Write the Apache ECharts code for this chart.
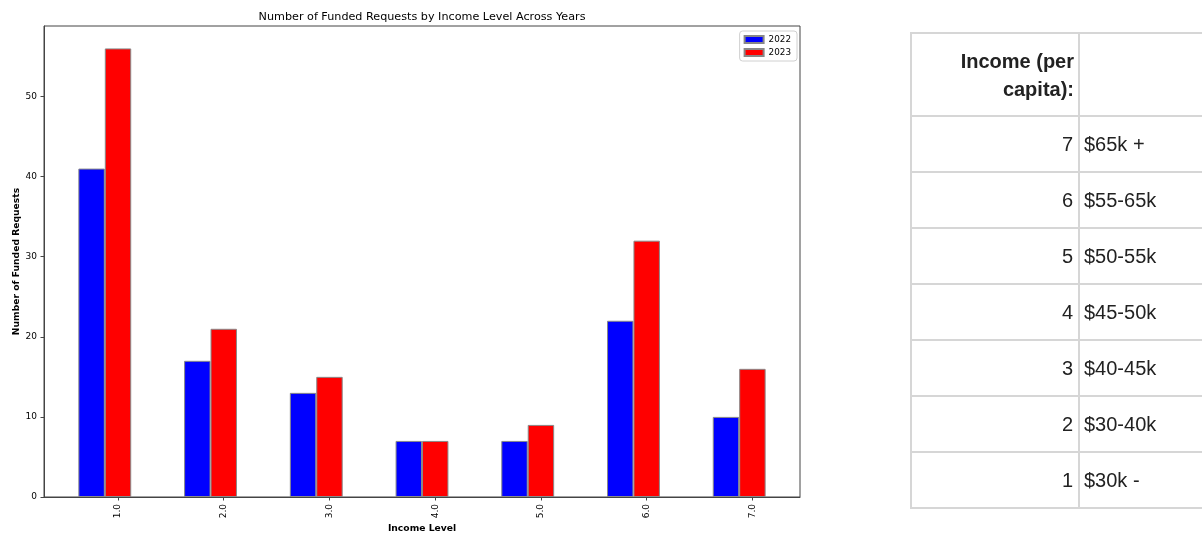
<!DOCTYPE html>
<html>
<head>
<meta charset="utf-8">
<script src="https://cdn.jsdelivr.net/npm/echarts@6/dist/echarts.min.js"></script>
<style>
html,body{margin:0;padding:0;background:#fff;}
#chart{width:1202px;height:534px;}
</style>
</head>
<body>
<div id="chart"></div>
<script>
// ---- data ----
var incomeLevels = [1, 2, 3, 4, 5, 6, 7];
var funded2022 = [41, 17, 13, 7, 7, 22, 10];
var funded2023 = [56, 21, 15, 7, 9, 32, 16];
var yTicks = [0, 10, 20, 30, 40, 50];
var tableCodes = [7, 6, 5, 4, 3, 2, 1];
var tableRanges = ['$65k +', '$55-65k', '$50-55k', '$45-50k', '$40-45k', '$30-40k', '$30k -'];
var tableHeader = 'Income (per\ncapita):';

function pairs(xs, ys) { return xs.map(function (x, i) { return [x, ys[i]]; }); }

// ---- table drawn as graphic ----
var tblLeft = 911, tblMid = 1079, tblRight = 1210, tblTop = 33, headerH = 83, rowH = 56;
var lineStyle = { stroke: '#d6d6d6', lineWidth: 2 };
var graphics = [];
var tblBottom = tblTop + headerH + rowH * tableCodes.length;
[tblLeft, tblMid].forEach(function (x) {
  graphics.push({ type: 'line', shape: { x1: x, y1: tblTop, x2: x, y2: tblBottom }, style: lineStyle, silent: true });
});
var hy = [tblTop];
for (var i = 0; i <= tableCodes.length; i++) hy.push(tblTop + headerH + rowH * i);
hy.forEach(function (y) {
  graphics.push({ type: 'line', shape: { x1: tblLeft - 1, y1: y, x2: tblRight, y2: y }, style: lineStyle, silent: true });
});
graphics.push({
  type: 'text', x: 1074, y: tblTop + headerH / 2 + 2,
  style: { text: tableHeader, font: 'bold 20px "Liberation Sans", Arial, sans-serif', fill: '#222', align: 'right', verticalAlign: 'middle', lineHeight: 28 },
  silent: true
});
tableCodes.forEach(function (c, i) {
  var cy = tblTop + headerH + rowH * i + rowH / 2 + 1;
  graphics.push({ type: 'text', x: 1073, y: cy, style: { text: String(c), font: '20px "Liberation Sans", Arial, sans-serif', fill: '#222', align: 'right', verticalAlign: 'middle' }, silent: true });
  graphics.push({ type: 'text', x: 1084, y: cy, style: { text: tableRanges[i], font: '20px "Liberation Sans", Arial, sans-serif', fill: '#222', align: 'left', verticalAlign: 'middle' }, silent: true });
});

var chart = echarts.init(document.getElementById('chart'), null, { renderer: 'canvas' });
var fontFam = '"DejaVu Sans", sans-serif';
chart.setOption({
  animation: false,
  backgroundColor: '#fff',
  title: {
    text: 'Number of Funded Requests by Income Level Across Years',
    left: 417, top: 7, textAlign: 'center',
    textStyle: { fontFamily: fontFam, fontSize: 11.2, fontWeight: 'normal', color: '#000' }
  },
  legend: {
    data: ['2022', '2023'],
    orient: 'vertical', right: 405, top: 31,
    itemWidth: 19, itemHeight: 7, itemGap: 4,
    padding: [4, 6, 4, 4],
    backgroundColor: '#fff', borderColor: '#d0d0d0', borderWidth: 1, borderRadius: 3,
    icon: 'rect',
    textStyle: { fontFamily: fontFam, fontSize: 8.8, color: '#000' }
  },
  grid: {
    left: 44, right: 402, top: 26, bottom: 37,
    outerBoundsMode: 'none', containLabel: false,
    show: true, borderColor: '#444', borderWidth: 1, backgroundColor: '#fff'
  },
  xAxis: {
    type: 'value', min: 0.3, max: 7.45,
    name: 'Income Level', nameLocation: 'middle', nameGap: 27, nameMoveOverlap: false,
    nameTextStyle: { fontFamily: fontFam, fontSize: 9.2, fontWeight: 'bold', color: '#000' },
    axisLine: { show: true, lineStyle: { color: '#444', width: 1 } },
    axisTick: { show: true, length: 3.5, customValues: incomeLevels, lineStyle: { color: '#444' } },
    axisLabel: { customValues: incomeLevels, rotate: 90, margin: 7, fontFamily: fontFam, fontSize: 9, color: '#000',
      formatter: function (v) { return Number(v).toFixed(1); } },
    splitLine: { show: false }
  },
  yAxis: {
    type: 'value', min: 0, max: 58.8,
    name: 'Number of Funded Requests', nameLocation: 'middle', nameGap: 23, nameMoveOverlap: false,
    nameTextStyle: { fontFamily: fontFam, fontSize: 9.2, fontWeight: 'bold', color: '#000' },
    axisLine: { show: true, lineStyle: { color: '#444', width: 1 } },
    axisTick: { show: true, length: 3.5, customValues: yTicks, lineStyle: { color: '#444' } },
    axisLabel: { customValues: yTicks, margin: 7, fontFamily: fontFam, fontSize: 9, color: '#000' },
    splitLine: { show: false }
  },
  series: [
    { name: '2022', type: 'bar', data: pairs(incomeLevels, funded2022), barWidth: '25%', barGap: '0%',
      itemStyle: { color: '#0000ff', borderColor: '#888', borderWidth: 1 } },
    { name: '2023', type: 'bar', data: pairs(incomeLevels, funded2023), barWidth: '25%', barGap: '0%',
      itemStyle: { color: '#ff0000', borderColor: '#888', borderWidth: 1 } },
    { name: 'spacer', type: 'bar', data: [], barWidth: '25%', barGap: '0%' }
  ],
  graphic: graphics
});
</script>
</body>
</html>
